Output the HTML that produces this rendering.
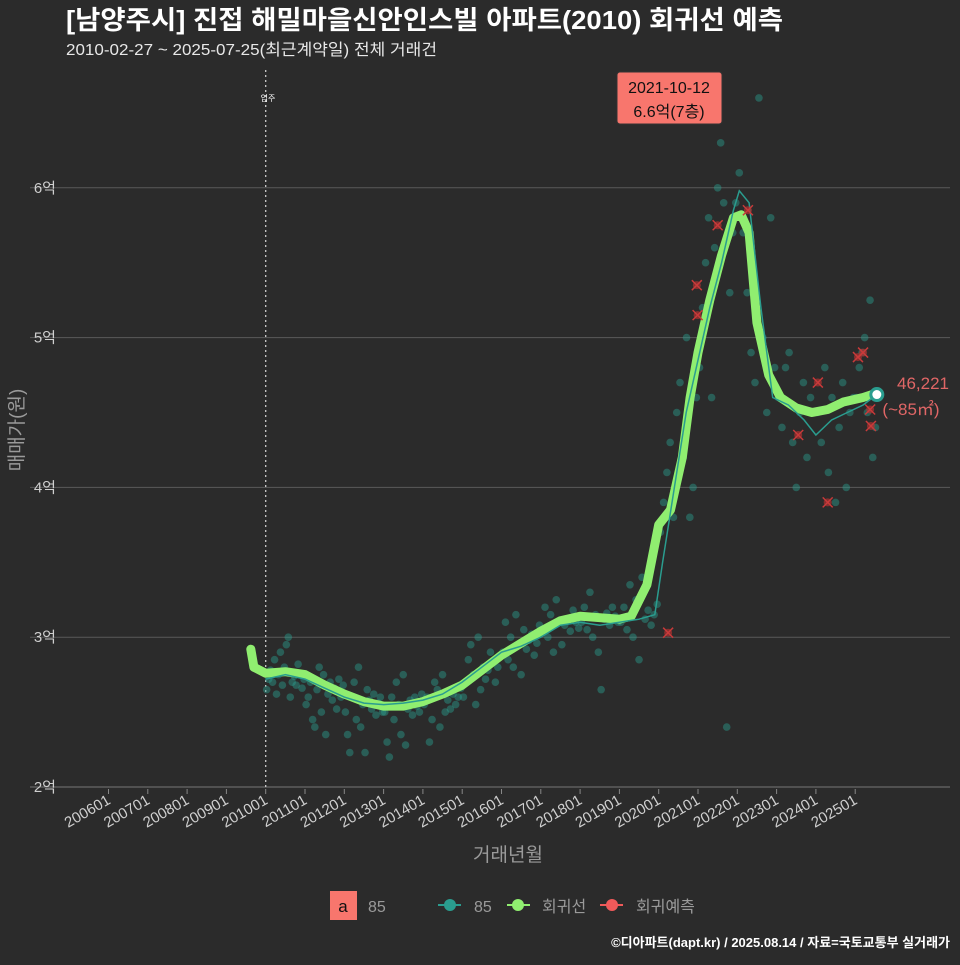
<!DOCTYPE html>
<html><head><meta charset="utf-8">
<style>
html,body{margin:0;padding:0;background:#2b2b2b;}
body{width:960px;height:960px;overflow:hidden;font-family:"Liberation Sans","Noto Sans CJK KR",sans-serif;}
svg text{font-family:"Liberation Sans","Noto Sans CJK KR",sans-serif;}
</style></head>
<body>
<svg id="chart" width="960" height="960" viewBox="0 0 960 960">
<rect x="0" y="0" width="960" height="960" fill="#2b2b2b"/>
<text x="66" y="29" fill="#ffffff" font-size="26" font-weight="bold" textLength="717" lengthAdjust="spacingAndGlyphs">[남양주시] 진접 해밀마을신안인스빌 아파트(2010) 회귀선 예측</text>
<text x="66" y="55" fill="#e8e8e8" font-size="16" textLength="371" lengthAdjust="spacingAndGlyphs">2010-02-27 ~ 2025-07-25(최근계약일) 전체 거래건</text>
<g id="grid"></g>
<g id="points"></g>
<g id="lines"></g>
<g id="xaxis"></g>
<text x="23" y="430" fill="#9a9a9a" font-size="19" text-anchor="middle" transform="rotate(-90 23 430)">매매가(원)</text>
<text x="508" y="861" fill="#9a9a9a" font-size="19" text-anchor="middle">거래년월</text>
<g>
<rect x="617" y="72" width="105" height="52" rx="3" fill="#f8766d" stroke="#333"/>
<text x="669" y="93" fill="#111" font-size="16" text-anchor="middle">2021-10-12</text>
<text x="669" y="117" fill="#111" font-size="16" text-anchor="middle">6.6억(7층)</text>
</g>
<text x="268" y="101" fill="#fff" font-size="8" text-anchor="middle">입주</text>
<text x="923" y="389" fill="#e06666" font-size="17" text-anchor="middle">46,221</text>
<text x="911" y="415" fill="#e06666" font-size="17" text-anchor="middle">(~85㎡)</text>
<g>
<rect x="330" y="891" width="27" height="29" fill="#f8766d"/>
<text x="343" y="912" fill="#111" font-size="17" text-anchor="middle">a</text>
<text x="368" y="912" fill="#9a9a9a" font-size="16">85</text>
<line x1="438" y1="905" x2="461" y2="905" stroke="#2a9d8f" stroke-width="2"/>
<circle cx="450" cy="905" r="6" fill="#2a9d8f"/>
<text x="474" y="912" fill="#9a9a9a" font-size="16">85</text>
<line x1="507" y1="905" x2="530" y2="905" stroke="#90ee70" stroke-width="2"/>
<circle cx="518" cy="905" r="6" fill="#90ee70"/>
<text x="542" y="912" fill="#9a9a9a" font-size="16">회귀선</text>
<line x1="600" y1="905" x2="623" y2="905" stroke="#f05a5a" stroke-width="2"/>
<circle cx="612" cy="905" r="6" fill="#f05a5a"/>
<text x="636" y="912" fill="#9a9a9a" font-size="16">회귀예측</text>
</g>
<text x="950" y="947" fill="#ffffff" font-size="13" font-weight="bold" text-anchor="end">©디아파트(dapt.kr) / 2025.08.14 / 자료=국토교통부 실거래가</text>
</svg>
<script>
const yTicks=[2,3,4,5,6];
const yTickLabels=["2억","3억","4억","5억","6억"];
const xTickYears=[2006,2007,2008,2009,2010,2011,2012,2013,2014,2015,2016,2017,2018,2019,2020,2021,2022,2023,2024,2025];
const xTickLabels=["200601","200701","200801","200901","201001","201101","201201","201301","201401","201501","201601","201701","201801","201901","202001","202101","202201","202301","202401","202501"];
const regT=[2009.62,2009.7,2010.0,2010.5,2011.0,2011.5,2012.0,2012.5,2013.0,2013.5,2014.0,2014.5,2015.0,2015.5,2016.0,2016.5,2017.0,2017.5,2018.0,2018.5,2019.0,2019.3,2019.7,2020.0,2020.3,2020.6,2020.8,2021.0,2021.3,2021.6,2021.9,2022.1,2022.3,2022.5,2022.8,2023.1,2023.5,2023.9,2024.3,2024.7,2025.2,2025.55];
const regV=[2.92,2.8,2.76,2.77,2.75,2.68,2.62,2.57,2.54,2.54,2.57,2.62,2.68,2.78,2.88,2.96,3.04,3.11,3.14,3.13,3.12,3.14,3.35,3.75,3.85,4.2,4.6,4.9,5.25,5.55,5.8,5.82,5.7,5.1,4.75,4.6,4.53,4.5,4.52,4.57,4.6,4.63];
const maT=[2010.0,2010.5,2011.0,2011.5,2012.0,2012.5,2013.0,2013.5,2014.0,2014.5,2015.0,2015.5,2016.0,2016.5,2017.0,2017.5,2018.0,2018.5,2019.0,2019.5,2019.9,2020.1,2020.4,2020.7,2021.0,2021.3,2021.6,2021.9,2022.05,2022.3,2022.6,2022.9,2023.3,2023.7,2024.0,2024.4,2024.8,2025.2,2025.55];
const maV=[2.72,2.75,2.72,2.66,2.6,2.56,2.55,2.56,2.58,2.62,2.7,2.8,2.9,2.94,3.0,3.08,3.1,3.08,3.1,3.12,3.15,3.5,4.0,4.5,4.85,5.2,5.5,5.85,5.98,5.9,5.2,4.6,4.55,4.45,4.35,4.45,4.5,4.55,4.62];
const scatterYears=[2010,2011,2012,2013,2014,2015,2016,2017,2018,2019,2020,2021,2022,2023,2024,2025];
const scatterVals=[
[2.65,2.72,2.78,2.7,2.85,2.62,2.75,2.9,2.68,2.8,2.95,3.0,2.6,2.7,2.74,2.68,2.82,2.76,2.66,2.72],
[2.55,2.6,2.7,2.45,2.4,2.65,2.8,2.5,2.75,2.35,2.62,2.7,2.58,2.66,2.52,2.72,2.6,2.68],
[2.5,2.35,2.23,2.6,2.7,2.45,2.8,2.4,2.55,2.23,2.65,2.58,2.52,2.62,2.48,2.56,2.6,2.5],
[2.5,2.3,2.2,2.6,2.45,2.7,2.55,2.35,2.75,2.28,2.52,2.58,2.48,2.6,2.54,2.5,2.62],
[2.55,2.6,2.3,2.45,2.7,2.65,2.4,2.75,2.5,2.58,2.52,2.62,2.55,2.6,2.66],
[2.6,2.7,2.85,2.95,2.75,2.55,3.0,2.65,2.8,2.72,2.78,2.9,2.84,2.7,2.8,2.88],
[2.9,3.1,2.85,3.0,2.8,3.15,2.95,2.75,3.05,2.92,2.98,3.02,2.88,2.96,3.08],
[3.05,3.2,3.0,3.15,2.9,3.25,3.1,2.95,3.08,3.12,3.04,3.18,3.1,3.06],
[3.1,3.2,3.05,3.3,3.0,3.15,2.9,2.65,3.12,3.16,3.08,3.2,3.14,3.1],
[3.1,3.2,3.05,3.35,3.0,3.25,2.85,3.4,3.12,3.18,3.08,3.15,3.22],
[3.7,3.9,4.1,4.3,3.8,4.5,4.7,4.2,5.0,3.8,4.0,4.6],
[4.8,5.2,5.5,5.8,4.6,5.6,6.0,6.3,5.9,2.4,5.3,5.7,5.9],
[6.1,5.7,5.3,4.9,4.7,6.6,5.0,4.5,5.8,4.8],
[4.6,4.4,4.8,4.9,4.3,4.0,4.5,4.7,4.2,4.6,4.5],
[4.5,4.3,4.8,4.1,4.6,3.9,4.4,4.7,4.0,4.5,4.6],
[4.6,4.8,4.9,5.0,4.5,5.25,4.2,4.4]];
const predT=[2020.24,2020.97,2020.99,2021.5,2022.27,2023.55,2024.05,2024.3,2025.07,2025.2,2025.4,2025.38];
const predV=[3.03,5.35,5.15,5.75,5.85,4.35,4.7,3.9,4.87,4.9,4.41,4.52];
const lastT=2025.55, lastV=4.62;

const NS="http://www.w3.org/2000/svg";
const X=t=>108.5+(t-2006)*39.3;
const Y=v=>787-(v-2)*149.8;
function mk(tag,attrs,parent){const e=document.createElementNS(NS,tag);for(const k in attrs)e.setAttribute(k,attrs[k]);parent.appendChild(e);return e;}
const grid=document.getElementById('grid'),pts=document.getElementById('points'),lines=document.getElementById('lines'),xa=document.getElementById('xaxis');
yTicks.forEach((v,i)=>{
  const l=mk('line',{x1:30,x2:950,y1:Y(v),y2:Y(v),stroke:i===0?'#777':'#5a5a5a','stroke-width':1},grid);
  
  
  const t=mk('text',{x:56,y:Y(v)+5,fill:'#cfcfcf','font-size':15,'text-anchor':'end'},grid);
  t.textContent=yTickLabels[i];
  
  
});
const vl=mk('line',{x1:X(2010),x2:X(2010),y1:70,y2:787,stroke:'#cccccc','stroke-dasharray':'2,3','stroke-width':1.3},grid);


xTickYears.forEach((yr,i)=>{
  const x=X(yr);
  const tk=mk('line',{x1:x,x2:x,y1:789,y2:794,stroke:'#888'},xa);
  
  
  const t=mk('text',{x:x+3,y:803,fill:'#cfcfcf','font-size':15,'text-anchor':'end',transform:`rotate(-30 ${x+3} 803)`},xa);
  t.textContent=xTickLabels[i];
  
  
});
scatterYears.forEach((yr,gi)=>{
  const vals=scatterVals[gi];const span=yr===2025?0.55:1;
  vals.forEach((v,j)=>{
    const t=yr+span*(j+0.5)/vals.length;
    const c=mk('circle',{cx:X(t),cy:Y(v),r:3.8,fill:'#2a9d8f','fill-opacity':0.45},pts);
    
    
  });
});
const path=(T,V)=>T.map((t,i)=>(i?'L':'M')+X(t).toFixed(1)+','+Y(V[i]).toFixed(1)).join(' ');
const reg=mk('path',{d:path(regT,regV),fill:'none',stroke:'#90ee70','stroke-width':9,'stroke-linejoin':'round','stroke-linecap':'round'},lines);


const ma=mk('path',{d:path(maT,maV),fill:'none',stroke:'#2a9d8f','stroke-width':1.5},lines);


predT.forEach((t,i)=>{
  const x=X(t),y=Y(predV[i]);
  const g=mk('g',{},lines);
  
  
  mk('circle',{cx:x,cy:y,r:4,fill:'#b03030','fill-opacity':0.7},g);
  mk('path',{d:`M${x-5},${y-5}L${x+5},${y+5}M${x-5},${y+5}L${x+5},${y-5}`,stroke:'#c83a3a','stroke-width':1.5},g);
});
const lp=mk('circle',{cx:X(lastT),cy:Y(lastV),r:6,fill:'#ffffff',stroke:'#2a9d8f','stroke-width':3},lines);


</script>
</body></html>
